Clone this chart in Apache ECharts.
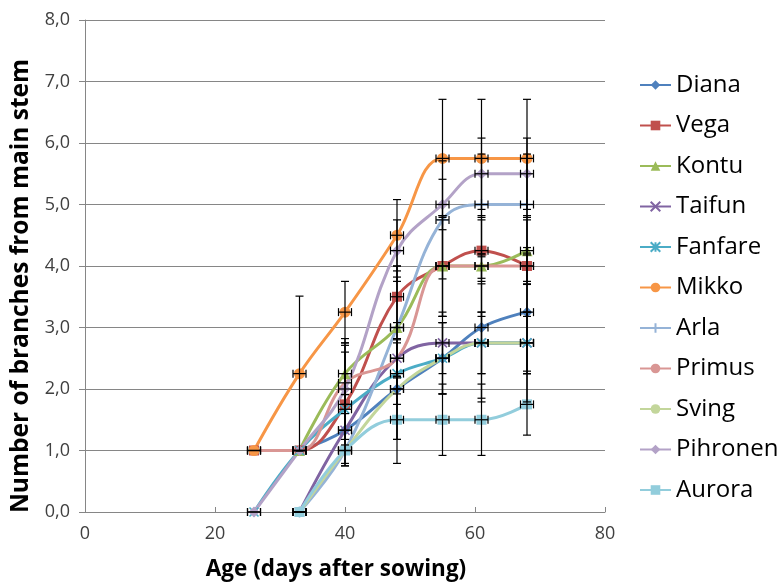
<!DOCTYPE html>
<html>
<head>
<meta charset="utf-8">
<script src="https://cdn.jsdelivr.net/npm/echarts@6/dist/echarts.min.js"></script>
<style>
html,body{margin:0;padding:0;background:#fff;}
#chart{width:777px;height:587px;}
</style>
</head>
<body>
<div id="chart"></div>
<script>
// ---- data ----
const ages = [26, 33, 40, 48, 55, 61, 68];
const ageErr = [1, 1, 1, 1, 1, 1, 1];
const xTicks = [0, 20, 40, 60, 80];
const yTicks = [0, 1, 2, 3, 4, 5, 6, 7, 8];
const cultivars = ['Diana','Vega','Kontu','Taifun','Fanfare','Mikko','Arla','Primus','Sving','Pihronen','Aurora'];

const diana    = [null, 1.0, 1.33, 2.0, 2.5, 3.0, 3.25];
const vega     = [1.0, 1.0, 1.75, 3.5, 4.0, 4.25, 4.0];
const kontu    = [null, 1.0, 2.25, 3.0, 4.0, 4.0, 4.25];
const taifun   = [null, 0, 1.33, 2.5, 2.75, 2.75, 2.75];
const fanfare  = [0, 1.0, 1.67, 2.25, 2.5, 2.75, 2.75];
const mikko    = [1.0, 2.25, 3.25, 4.5, 5.75, 5.75, 5.75];
const arla     = [null, 0, 1.0, 3.0, 4.75, 5.0, 5.0];
const primus   = [1.0, 1.0, 2.1, 2.5, 4.0, 4.0, 4.0];
const sving    = [null, 0, 1.0, 2.0, 2.5, 2.75, 2.75];
const pihronen = [0, 1.0, 2.0, 4.25, 5.0, 5.5, 5.5];
const aurora   = [null, 0, 1.0, 1.5, 1.5, 1.5, 1.75];

const dianaErr    = [0, 0, 0.58, 0.82, 0.58, 1.15, 0.96];
const vegaErr     = [0, 0, 0.96, 0.5, 0.82, 0.5, 0.82];
const kontuErr    = [0, 0, 0.5, 0.82, 0.82, 0.82, 0.5];
const taifunErr   = [0, 0, 0.58, 0.58, 0.5, 0.5, 0.5];
const fanfareErr  = [0, 0, 0.58, 0.5, 0.58, 0.5, 0.5];
const mikkoErr    = [0, 1.26, 0.5, 0.58, 0.96, 0.96, 0.96];
const arlaErr     = [0, 0, 0, 1.0, 0.96, 0.82, 0.82];
const primusErr   = [0, 0, 0.5, 0.3, 0.82, 0.2, 0.3];
const svingErr    = [0, 0, 0, 0.82, 0.58, 0.96, 0.96];
const pihronenErr = [0, 0, 0.82, 0.5, 0.41, 0.58, 0.58];
const auroraErr   = [0, 0, 0, 0.71, 0.58, 0.58, 0.5];

const values = [diana, vega, kontu, taifun, fanfare, mikko, arla, primus, sving, pihronen, aurora];
const errors = [dianaErr, vegaErr, kontuErr, taifunErr, fanfareErr, mikkoErr, arlaErr, primusErr, svingErr, pihronenErr, auroraErr];

// ---- styles ----
const colors = ['#4F81BD','#C0504D','#9BBB59','#8064A2','#4BACC6','#F79646','#95B3D7','#D99694','#C3D69B','#B3A2C7','#92CDDC'];
const X_PATH = 'path://M0,0L10,10M10,0L0,10';
const STAR_PATH = 'path://M0,0L10,10M10,0L0,10M5,0L5,10';
const PLUS_PATH = 'path://M5,0L5,10M0,5L10,5';
const symbols = ['diamond','rect','triangle',X_PATH,STAR_PATH,'circle',PLUS_PATH,'none','none','diamond','rect'];
const symbolSizes = [11,10,11,9,9,11,11,0,0,11,10];

const lineSeries = cultivars.map((name, i) => {
  const strokeOnly = (symbols[i] === X_PATH || symbols[i] === STAR_PATH || symbols[i] === PLUS_PATH);
  return {
    name: name,
    type: 'line',
    smooth: 0.4,
    data: ages.map((a, j) => values[i][j] === null ? null : [a, values[i][j]]).filter(d => d !== null),
    symbol: symbols[i],
    symbolSize: symbolSizes[i],
    showSymbol: symbols[i] !== 'none',
    lineStyle: { color: colors[i], width: 3 },
    itemStyle: strokeOnly
      ? { color: '#ffffff', borderColor: colors[i], borderWidth: 1.6 }
      : { color: colors[i], borderColor: colors[i], borderWidth: 0 },
    z: 2,
    animation: false
  };
});

const errData = [];
cultivars.forEach((name, i) => {
  ages.forEach((a, j) => {
    if (values[i][j] !== null) errData.push([a, values[i][j], errors[i][j], ageErr[j]]);
  });
});

const errSeries = {
  type: 'custom',
  name: 'errors',
  data: errData,
  z: 5,
  silent: true,
  animation: false,
  renderItem: function (params, api) {
    const x = api.value(0), y = api.value(1), e = api.value(2), xe = api.value(3);
    const st = { stroke: '#000', lineWidth: 1.2 };
    const children = [];
    const c = api.coord([x, y]);
    if (e > 0) {
      const t = api.coord([x, y + e]);
      const b = api.coord([x, y - e]);
      children.push({ type: 'line', shape: { x1: c[0], y1: t[1], x2: c[0], y2: b[1] }, style: st });
      children.push({ type: 'line', shape: { x1: c[0] - 4, y1: t[1], x2: c[0] + 4, y2: t[1] }, style: st });
      children.push({ type: 'line', shape: { x1: c[0] - 4, y1: b[1], x2: c[0] + 4, y2: b[1] }, style: st });
    }
    if (xe > 0) {
      const l = api.coord([x - xe, y]);
      const r = api.coord([x + xe, y]);
      children.push({ type: 'line', shape: { x1: l[0], y1: c[1], x2: r[0], y2: c[1] }, style: st });
      children.push({ type: 'line', shape: { x1: l[0], y1: c[1] - 4, x2: l[0], y2: c[1] + 4 }, style: st });
      children.push({ type: 'line', shape: { x1: r[0], y1: c[1] - 4, x2: r[0], y2: c[1] + 4 }, style: st });
    }
    return { type: 'group', children: children };
  }
};

const chart = echarts.init(document.getElementById('chart'), null, { renderer: 'canvas' });
chart.setOption({
  animation: false,
  backgroundColor: '#ffffff',
  textStyle: { fontFamily: 'Open Sans' },
  grid: { left: 85, right: 172, top: 20, bottom: 75, containLabel: false },
  legend: {
    data: cultivars,
    orient: 'vertical',
    left: 634,
    top: 66,
    itemWidth: 31,
    itemHeight: 12,
    itemGap: 12.5,
    textStyle: { fontSize: 24, color: '#000', fontFamily: 'Open Sans', lineHeight: 28 }
  },
  xAxis: {
    type: 'value',
    min: xTicks[0],
    max: xTicks[xTicks.length - 1],
    interval: xTicks[1] - xTicks[0],
    name: 'Age (days after sowing)',
    nameLocation: 'middle',
    nameGap: 46,
    nameTextStyle: { fontSize: 22.5, fontWeight: 'bold', color: '#000', fontFamily: 'Open Sans', padding: [0, 18, 0, 0] },
    axisLine: { show: true, lineStyle: { color: '#868686', width: 1 } },
    axisTick: { show: true, inside: true, length: 5, lineStyle: { color: '#868686' } },
    axisLabel: { fontSize: 18, color: '#404040', margin: 13 },
    splitLine: { show: false }
  },
  yAxis: {
    type: 'value',
    min: yTicks[0],
    max: yTicks[yTicks.length - 1],
    interval: yTicks[1] - yTicks[0],
    name: 'Number of branches from main stem',
    nameLocation: 'middle',
    nameGap: 46,
    nameTextStyle: { fontSize: 24.5, fontWeight: 'bold', color: '#000', fontFamily: 'Open Sans', padding: [0, 40, 0, 0] },
    axisLine: { show: true, lineStyle: { color: '#868686', width: 1 } },
    axisTick: { show: true, inside: false, length: 6, lineStyle: { color: '#868686' } },
    axisLabel: { fontSize: 18, color: '#404040', margin: 15, formatter: v => v.toFixed(1).replace('.', ',') },
    splitLine: { show: true, lineStyle: { color: '#868686', width: 1 } }
  },
  series: lineSeries.concat([errSeries])
});
</script>
</body>
</html>
